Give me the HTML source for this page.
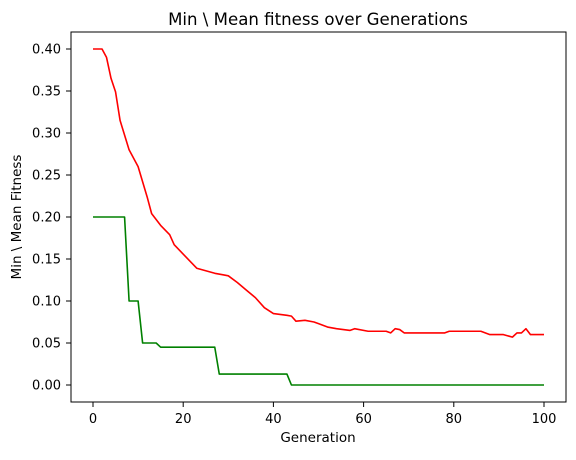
<!DOCTYPE html>
<html><head><meta charset="utf-8"><style>
body{margin:0;background:#fff;}
svg text{font-family:"DejaVu Sans","Liberation Sans",sans-serif;fill:#000;}
</style></head><body>
<svg id="chart" width="576" height="455" xmlns="http://www.w3.org/2000/svg">
<rect width="576" height="455" fill="#fff"/>
<text x="318" y="25" font-size="16.6" text-anchor="middle">Min \ Mean fitness over Generations</text>
<text x="318" y="442" font-size="13.5" text-anchor="middle">Generation</text>
<text x="21" y="217" font-size="13.5" text-anchor="middle" transform="rotate(-90 21 217)">Min \ Mean Fitness</text>
<g id="grid"></g>
<g id="series"></g>
<rect x="71" y="32" width="495" height="370" fill="none" stroke="#000" stroke-width="1"/>
</svg>
<script>
const xTicks=[0,20,40,60,80,100];
const yTicks=[0,0.05,0.10,0.15,0.20,0.25,0.30,0.35,0.40];
const meanGens=[0,2,3,4,5,6,8,10,12,13,15,17,18,23,27,29,30,32,34,36,38,40,43,44,45,47,49,50,52,54,57,58,61,65,66,67,68,69,78,79,86,88,91,93,94,95,96,97,100];
const meanVals=[0.40,0.40,0.39,0.365,0.349,0.315,0.28,0.26,0.224,0.204,0.19,0.179,0.167,0.139,0.133,0.131,0.13,0.122,0.113,0.104,0.092,0.085,0.083,0.082,0.076,0.077,0.075,0.073,0.069,0.067,0.065,0.067,0.064,0.064,0.062,0.067,0.066,0.062,0.062,0.064,0.064,0.060,0.060,0.057,0.062,0.062,0.067,0.060,0.060];
const minGens=[0,7,8,10,11,14,15,27,28,43,44,100];
const minVals=[0.2,0.2,0.1,0.1,0.05,0.05,0.045,0.045,0.013,0.013,0,0];
const NS="http://www.w3.org/2000/svg";
const xS=g=>93+g*4.51;
const yS=v=>385-v*840;
const grid=document.getElementById('grid');
const ser=document.getElementById('series');
function mk(t,a,p){const e=document.createElementNS(NS,t);for(const k in a)e.setAttribute(k,a[k]);p.appendChild(e);return e;}
xTicks.forEach(t=>{
  const l=mk('line',{x1:xS(t),x2:xS(t),y1:402,y2:407,stroke:'#000'},grid);
  
  
  const tx=mk('text',{x:xS(t),y:423,'font-size':13,'text-anchor':'middle'},grid);
  tx.textContent=t;
  
  
});
yTicks.forEach(t=>{
  const l=mk('line',{x1:66,x2:71,y1:yS(t),y2:yS(t),stroke:'#000'},grid);
  
  
  const tx=mk('text',{x:61,y:yS(t)+4.5,'font-size':13,'text-anchor':'end'},grid);
  tx.textContent=t.toFixed(2);
  
  
});
const pm=mk('polyline',{points:meanGens.map((g,i)=>xS(g)+','+yS(meanVals[i])).join(' '),fill:'none',stroke:'#ff0000','stroke-width':1.6,'stroke-linejoin':'round'},ser);


const pn=mk('polyline',{points:minGens.map((g,i)=>xS(g)+','+yS(minVals[i])).join(' '),fill:'none',stroke:'#008000','stroke-width':1.6,'stroke-linejoin':'round'},ser);


</script>
</body></html>
